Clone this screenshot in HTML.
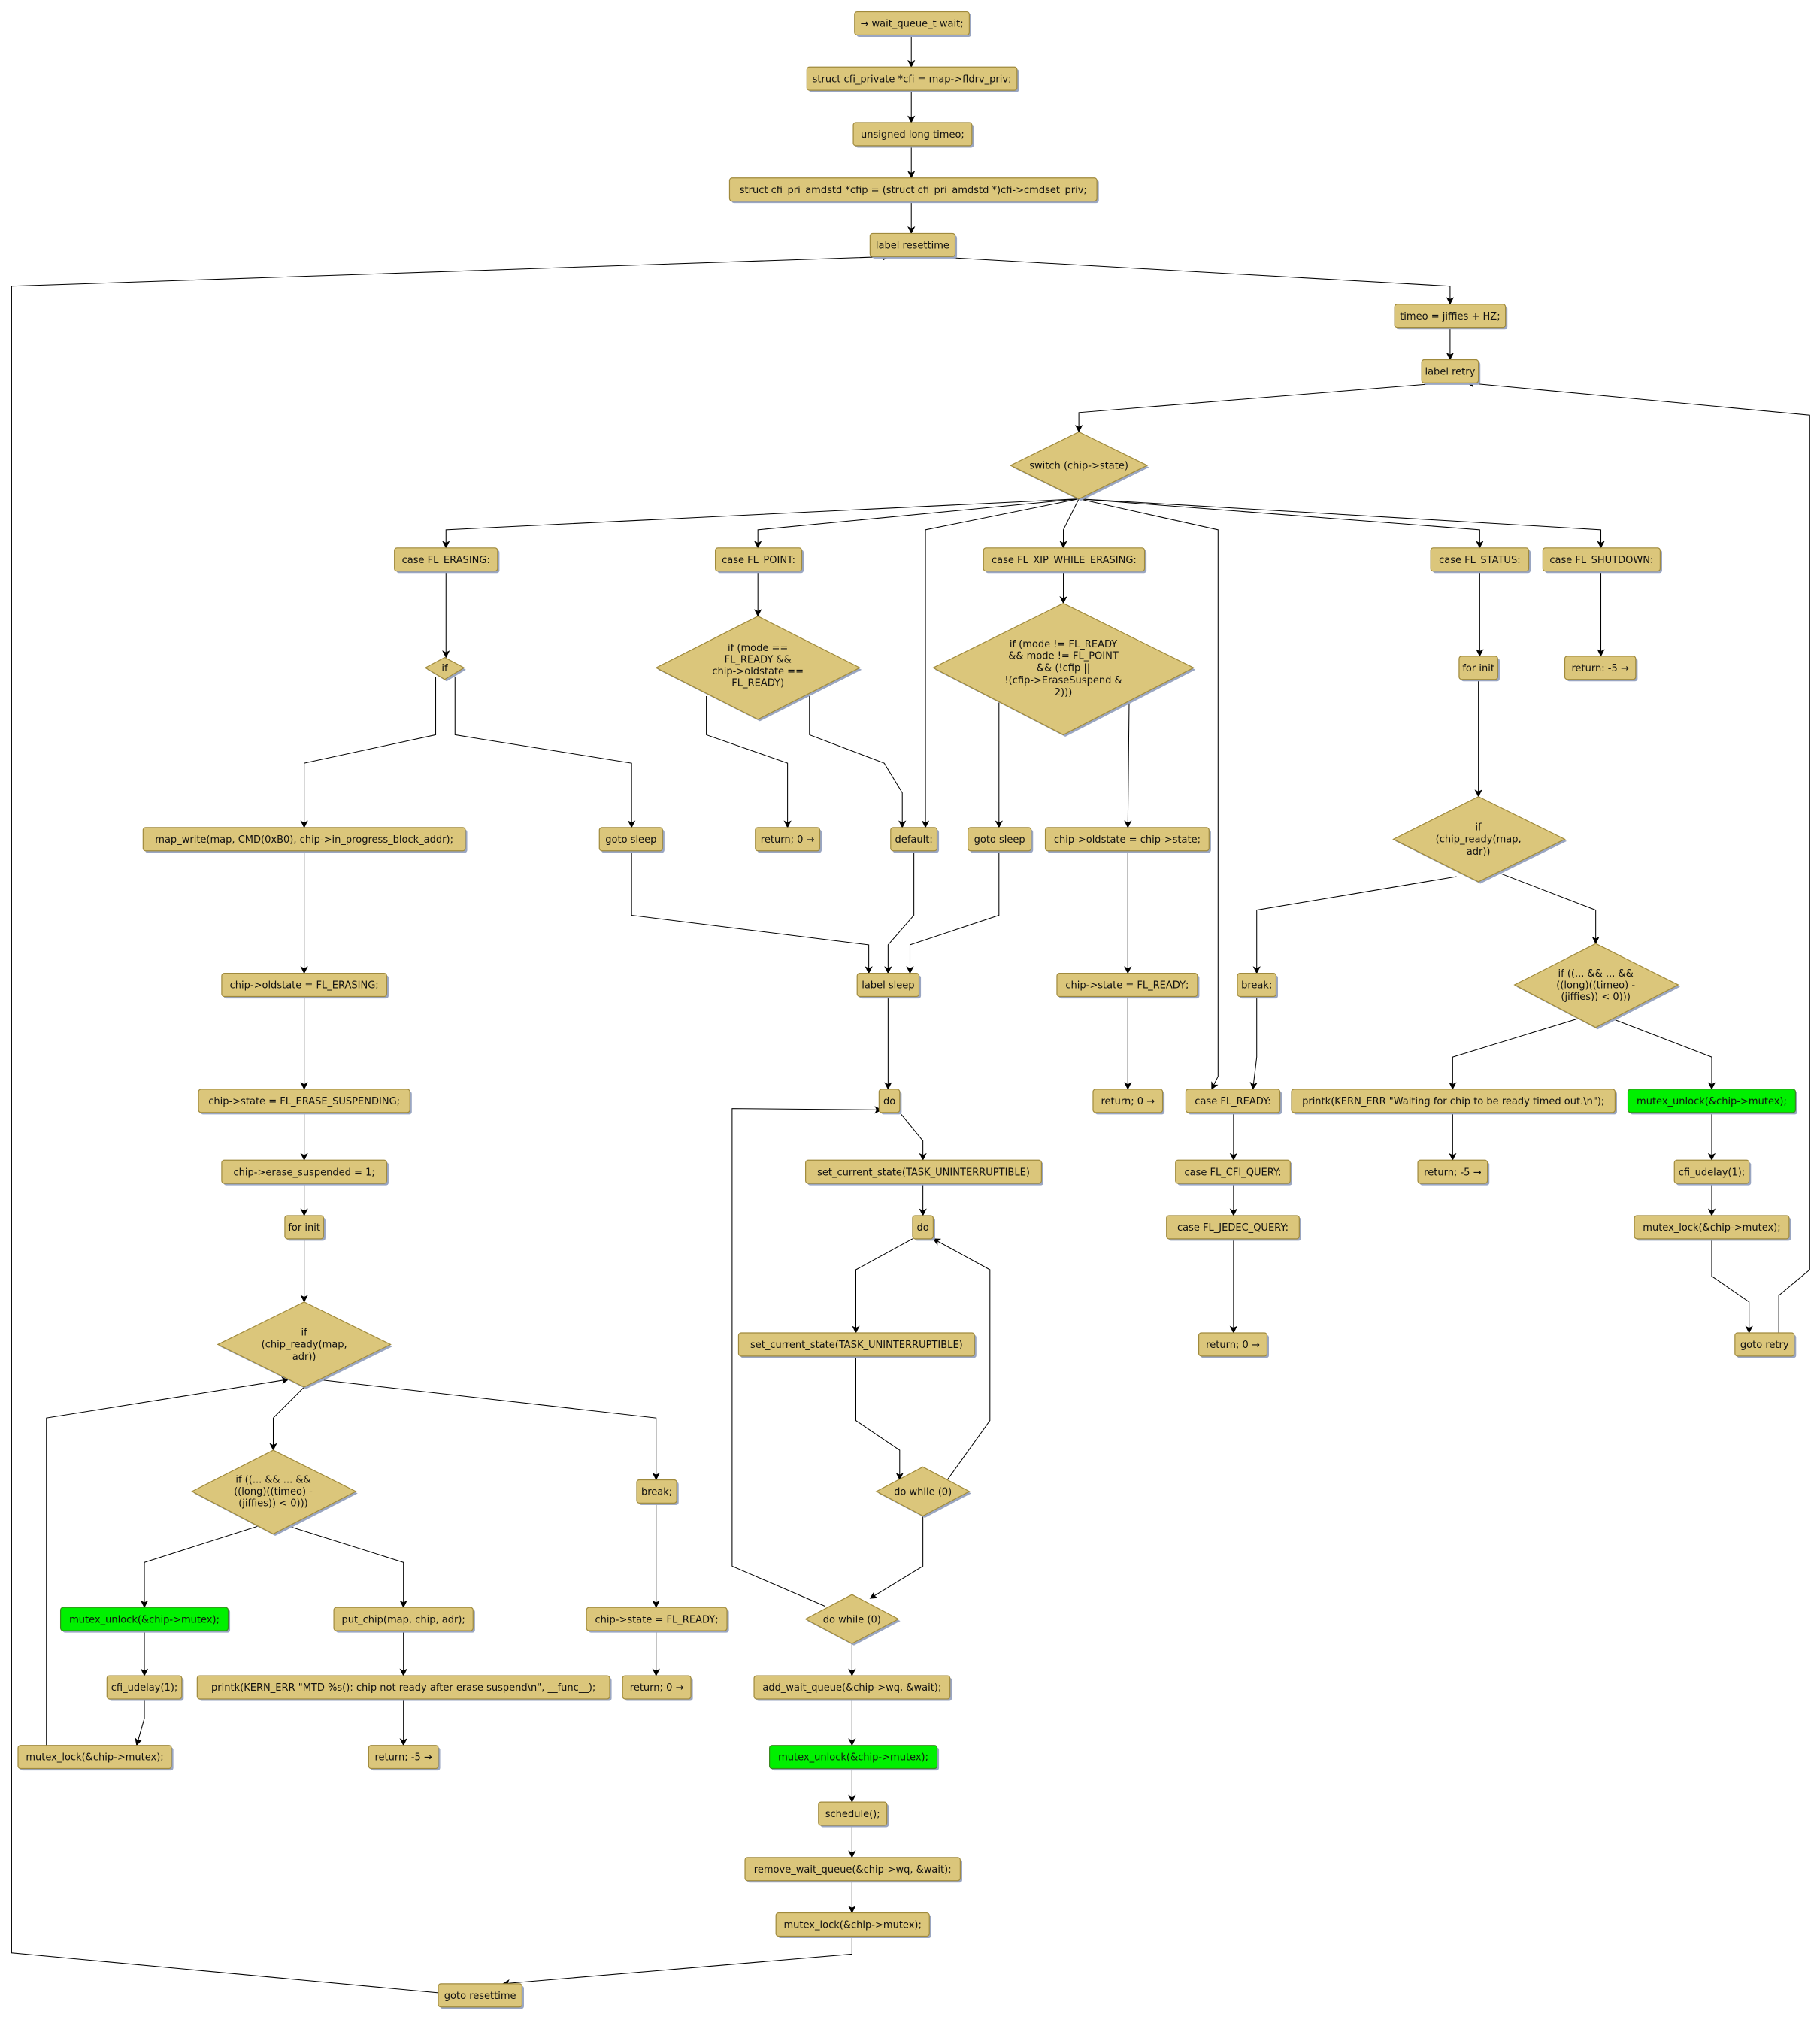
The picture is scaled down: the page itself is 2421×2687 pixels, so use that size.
<!DOCTYPE html>
<html><head><meta charset="utf-8"><style>
html,body{margin:0;padding:0;background:#fff}
svg{display:block}
text{font-family:"DejaVu Sans","Liberation Sans",sans-serif;font-size:7.6px;fill:#111;text-anchor:middle}
.b{fill:#dbc67b;stroke:#a08a3c;stroke-width:0.7}
.g{fill:#00f000;stroke:#3a8a20;stroke-width:0.7}
.s{fill:#9aa6c2}
.e{fill:none;stroke:#000;stroke-width:0.6}
</style></head><body>
<svg width="2421" height="2687" viewBox="0 0 1412 1567" xmlns="http://www.w3.org/2000/svg">
<defs><marker id="a" markerWidth="6" markerHeight="6" refX="5.5" refY="3" orient="auto" markerUnits="userSpaceOnUse"><path d="M0,0 L6,3 L0,6 L1.5,3 z" fill="#000"/></marker></defs>
<g class="e" marker-end="url(#a)">
<polyline points="707,27 707,52"/><polyline points="707,70 707,95"/><polyline points="707,113 707,138"/><polyline points="707,156 707,181"/>
<polyline points="722,199 1125,222 1125,236"/>
<polyline points="661,1502 661,1516 390,1539"/>
<polyline points="340,1546 9,1515 9,222 690,199"/>
<polyline points="1125,254 1125,279"/>
<polyline points="1120,297 837,320 837,335"/>
<polyline points="1380,1034 1380,1005 1404,985 1404,322 1138,297"/>
<polyline points="837,387 346,411 346,425"/>
<polyline points="837,387 588,411 588,425"/>
<polyline points="837,387 718,411 718,642"/>
<polyline points="837,387 825,411 825,425"/>
<polyline points="837,387 945,411 945,835 940,845"/>
<polyline points="837,387 1148,411 1148,425"/>
<polyline points="837,387 1242,411 1242,425"/>
<polyline points="346,443 346,510"/>
<polyline points="338,525 338,570 236,592 236,642"/>
<polyline points="353,525 353,570 490,592 490,642"/>
<polyline points="588,443 588,478"/>
<polyline points="548,540 548,570 611,592 611,642"/>
<polyline points="628,540 628,570 686,592 700,615 700,642"/>
<polyline points="825,443 825,468"/>
<polyline points="775,545 775,642"/>
<polyline points="876,545 875,642"/>
<polyline points="236,660 236,755"/>
<polyline points="490,660 490,710 674,733 674,755"/>
<polyline points="709,660 709,710 689,733 689,755"/>
<polyline points="775,660 775,710 706,733 706,755"/>
<polyline points="875,660 875,755"/>
<polyline points="1148,443 1148,509"/>
<polyline points="1242,443 1242,509"/>
<polyline points="1147,527 1147,618"/>
<polyline points="1130,680 975,706 975,755"/>
<polyline points="1160,676 1238,706 1238,732"/>
<polyline points="975,773 975,820 972,845"/>
<polyline points="1225,790 1127,820 1127,845"/>
<polyline points="1250,790 1328,820 1328,845"/>
<polyline points="236,773 236,845"/>
<polyline points="689,773 689,845"/>
<polyline points="875,773 875,845"/>
<polyline points="957,863 957,900"/>
<polyline points="1127,863 1127,900"/>
<polyline points="1328,863 1328,900"/>
<polyline points="236,863 236,900"/>
<polyline points="698,863 716,885 716,900"/>
<polyline points="957,918 957,943"/>
<polyline points="1328,918 1328,943"/>
<polyline points="236,918 236,943"/>
<polyline points="716,918 716,943"/>
<polyline points="957,961 957,1034"/>
<polyline points="1328,961 1328,990 1357,1010 1357,1034"/>
<polyline points="236,961 236,1010"/>
<polyline points="708,961 664,985 664,1034"/>
<polyline points="735,1148 768,1102 768,985 724,961"/>
<polyline points="664,1052 664,1102 698,1125 698,1148"/>
<polyline points="716,1176 716,1215 675,1240"/>
<polyline points="640,1246 568,1215 568,860 684,861"/>
<polyline points="236,1076 212,1100 212,1125"/>
<polyline points="245,1070 509,1100 509,1148"/>
<polyline points="36,1354 36,1100 224,1070"/>
<polyline points="200,1184 112,1212 112,1247"/>
<polyline points="224,1184 313,1212 313,1247"/>
<polyline points="509,1166 509,1247"/>
<polyline points="661,1275 661,1300"/>
<polyline points="112,1265 112,1300"/>
<polyline points="313,1265 313,1300"/>
<polyline points="509,1265 509,1300"/>
<polyline points="112,1318 112,1333 106,1354"/>
<polyline points="313,1318 313,1354"/>
<polyline points="661,1318 661,1354"/>
<polyline points="661,1372 661,1398"/><polyline points="661,1416 661,1441"/><polyline points="661,1459 661,1484"/>
</g>

<g>
<rect class="s" x="664.5" y="10.5" width="89" height="18" rx="2"/><rect class="b" x="663" y="9" width="89" height="18" rx="2"/><text x="707.5" y="20.7">→ wait_queue_t wait;</text>
<rect class="s" x="627.5" y="53.5" width="163" height="18" rx="2"/><rect class="b" x="626" y="52" width="163" height="18" rx="2"/><text x="707.5" y="63.7">struct cfi_private *cfi = map-&gt;fldrv_priv;</text>
<rect class="s" x="663.5" y="96.5" width="92" height="18" rx="2"/><rect class="b" x="662" y="95" width="92" height="18" rx="2"/><text x="708" y="106.7">unsigned long timeo;</text>
<rect class="s" x="567.5" y="139.5" width="285" height="18" rx="2"/><rect class="b" x="566" y="138" width="285" height="18" rx="2"/><text x="708.5" y="149.7">struct cfi_pri_amdstd *cfip = (struct cfi_pri_amdstd *)cfi-&gt;cmdset_priv;</text>
<rect class="s" x="676.5" y="182.5" width="66" height="18" rx="2"/><rect class="b" x="675" y="181" width="66" height="18" rx="2"/><text x="708" y="192.7">label resettime</text>
<rect class="s" x="1083.5" y="237.5" width="86" height="18" rx="2"/><rect class="b" x="1082" y="236" width="86" height="18" rx="2"/><text x="1125" y="247.7">timeo = jiffies + HZ;</text>
<rect class="s" x="1104.5" y="280.5" width="44" height="18" rx="2"/><rect class="b" x="1103" y="279" width="44" height="18" rx="2"/><text x="1125" y="290.7">label retry</text>

<rect class="s" x="307.5" y="426.5" width="80" height="18" rx="2"/><rect class="b" x="306" y="425" width="80" height="18" rx="2"/><text x="346" y="436.7">case FL_ERASING:</text>
<rect class="s" x="556.5" y="426.5" width="67" height="18" rx="2"/><rect class="b" x="555" y="425" width="67" height="18" rx="2"/><text x="588.5" y="436.7">case FL_POINT:</text>
<rect class="s" x="764.5" y="426.5" width="125" height="18" rx="2"/><rect class="b" x="763" y="425" width="125" height="18" rx="2"/><text x="825.5" y="436.7">case FL_XIP_WHILE_ERASING:</text>
<rect class="s" x="1111.5" y="426.5" width="76" height="18" rx="2"/><rect class="b" x="1110" y="425" width="76" height="18" rx="2"/><text x="1148" y="436.7">case FL_STATUS:</text>
<rect class="s" x="1198.5" y="426.5" width="91" height="18" rx="2"/><rect class="b" x="1197" y="425" width="91" height="18" rx="2"/><text x="1242.5" y="436.7">case FL_SHUTDOWN:</text>

<rect class="s" x="1133.5" y="510.5" width="30" height="18" rx="2"/><rect class="b" x="1132" y="509" width="30" height="18" rx="2"/><text x="1147" y="520.7">for init</text>
<rect class="s" x="1215.5" y="510.5" width="55" height="18" rx="2"/><rect class="b" x="1214" y="509" width="55" height="18" rx="2"/><text x="1241.5" y="520.7">return: -5 →</text>

<rect class="s" x="112.5" y="643.5" width="250" height="18" rx="2"/><rect class="b" x="111" y="642" width="250" height="18" rx="2"/><text x="236" y="653.7">map_write(map, CMD(0xB0), chip-&gt;in_progress_block_addr);</text>
<rect class="s" x="466.5" y="643.5" width="49" height="18" rx="2"/><rect class="b" x="465" y="642" width="49" height="18" rx="2"/><text x="489.5" y="653.7">goto sleep</text>
<rect class="s" x="587.5" y="643.5" width="50" height="18" rx="2"/><rect class="b" x="586" y="642" width="50" height="18" rx="2"/><text x="611" y="653.7">return; 0 →</text>
<rect class="s" x="692.5" y="643.5" width="36" height="18" rx="2"/><rect class="b" x="691" y="642" width="36" height="18" rx="2"/><text x="709" y="653.7">default:</text>
<rect class="s" x="752.5" y="643.5" width="49" height="18" rx="2"/><rect class="b" x="751" y="642" width="49" height="18" rx="2"/><text x="775.5" y="653.7">goto sleep</text>
<rect class="s" x="812.5" y="643.5" width="127" height="18" rx="2"/><rect class="b" x="811" y="642" width="127" height="18" rx="2"/><text x="874.5" y="653.7">chip-&gt;oldstate = chip-&gt;state;</text>

<rect class="s" x="173.5" y="756.5" width="128" height="18" rx="2"/><rect class="b" x="172" y="755" width="128" height="18" rx="2"/><text x="236" y="766.7">chip-&gt;oldstate = FL_ERASING;</text>
<rect class="s" x="666.5" y="756.5" width="48" height="18" rx="2"/><rect class="b" x="665" y="755" width="48" height="18" rx="2"/><text x="689" y="766.7">label sleep</text>
<rect class="s" x="821.5" y="756.5" width="109" height="18" rx="2"/><rect class="b" x="820" y="755" width="109" height="18" rx="2"/><text x="874.5" y="766.7">chip-&gt;state = FL_READY;</text>
<rect class="s" x="961.5" y="756.5" width="30" height="18" rx="2"/><rect class="b" x="960" y="755" width="30" height="18" rx="2"/><text x="975" y="766.7">break;</text>

<rect class="s" x="155.5" y="846.5" width="164" height="18" rx="2"/><rect class="b" x="154" y="845" width="164" height="18" rx="2"/><text x="236" y="856.7">chip-&gt;state = FL_ERASE_SUSPENDING;</text>
<rect class="s" x="683.5" y="846.5" width="16" height="18" rx="2"/><rect class="b" x="682" y="845" width="16" height="18" rx="2"/><text x="690" y="856.7">do</text>
<rect class="s" x="849.5" y="846.5" width="54" height="18" rx="2"/><rect class="b" x="848" y="845" width="54" height="18" rx="2"/><text x="875" y="856.7">return; 0 →</text>
<rect class="s" x="921.5" y="846.5" width="73" height="18" rx="2"/><rect class="b" x="920" y="845" width="73" height="18" rx="2"/><text x="956.5" y="856.7">case FL_READY:</text>
<rect class="s" x="1003.5" y="846.5" width="251" height="18" rx="2"/><rect class="b" x="1002" y="845" width="251" height="18" rx="2"/><text x="1127.5" y="856.7">printk(KERN_ERR "Waiting for chip to be ready timed out.\n");</text>
<rect class="s" x="1264.5" y="846.5" width="130" height="18" rx="2"/><rect class="g" x="1263" y="845" width="130" height="18" rx="2"/><text x="1328" y="856.7">mutex_unlock(&amp;chip-&gt;mutex);</text>

<rect class="s" x="173.5" y="901.5" width="128" height="18" rx="2"/><rect class="b" x="172" y="900" width="128" height="18" rx="2"/><text x="236" y="911.7">chip-&gt;erase_suspended = 1;</text>
<rect class="s" x="626.5" y="901.5" width="183" height="18" rx="2"/><rect class="b" x="625" y="900" width="183" height="18" rx="2"/><text x="716.5" y="911.7">set_current_state(TASK_UNINTERRUPTIBLE)</text>
<rect class="s" x="913.5" y="901.5" width="89" height="18" rx="2"/><rect class="b" x="912" y="900" width="89" height="18" rx="2"/><text x="956.5" y="911.7">case FL_CFI_QUERY:</text>
<rect class="s" x="1101.5" y="901.5" width="54" height="18" rx="2"/><rect class="b" x="1100" y="900" width="54" height="18" rx="2"/><text x="1127" y="911.7">return; -5 →</text>
<rect class="s" x="1300.5" y="901.5" width="58" height="18" rx="2"/><rect class="b" x="1299" y="900" width="58" height="18" rx="2"/><text x="1328" y="911.7">cfi_udelay(1);</text>

<rect class="s" x="222.5" y="944.5" width="30" height="18" rx="2"/><rect class="b" x="221" y="943" width="30" height="18" rx="2"/><text x="236" y="954.7">for init</text>
<rect class="s" x="709.5" y="944.5" width="16" height="18" rx="2"/><rect class="b" x="708" y="943" width="16" height="18" rx="2"/><text x="716" y="954.7">do</text>
<rect class="s" x="906.5" y="944.5" width="103" height="18" rx="2"/><rect class="b" x="905" y="943" width="103" height="18" rx="2"/><text x="956.5" y="954.7">case FL_JEDEC_QUERY:</text>
<rect class="s" x="1269.5" y="944.5" width="120" height="18" rx="2"/><rect class="b" x="1268" y="943" width="120" height="18" rx="2"/><text x="1328" y="954.7">mutex_lock(&amp;chip-&gt;mutex);</text>

<rect class="s" x="574.5" y="1035.5" width="183" height="18" rx="2"/><rect class="b" x="573" y="1034" width="183" height="18" rx="2"/><text x="664.5" y="1045.7">set_current_state(TASK_UNINTERRUPTIBLE)</text>
<rect class="s" x="931.5" y="1035.5" width="53" height="18" rx="2"/><rect class="b" x="930" y="1034" width="53" height="18" rx="2"/><text x="956.5" y="1045.7">return; 0 →</text>
<rect class="s" x="1347.5" y="1035.5" width="46" height="18" rx="2"/><rect class="b" x="1346" y="1034" width="46" height="18" rx="2"/><text x="1369" y="1045.7">goto retry</text>

<rect class="s" x="495.5" y="1149.5" width="31" height="18" rx="2"/><rect class="b" x="494" y="1148" width="31" height="18" rx="2"/><text x="509.5" y="1159.7">break;</text>

<rect class="s" x="48.5" y="1248.5" width="130" height="18" rx="2"/><rect class="g" x="47" y="1247" width="130" height="18" rx="2"/><text x="112" y="1258.7">mutex_unlock(&amp;chip-&gt;mutex);</text>
<rect class="s" x="260.5" y="1248.5" width="108" height="18" rx="2"/><rect class="b" x="259" y="1247" width="108" height="18" rx="2"/><text x="313" y="1258.7">put_chip(map, chip, adr);</text>
<rect class="s" x="456.5" y="1248.5" width="109" height="18" rx="2"/><rect class="b" x="455" y="1247" width="109" height="18" rx="2"/><text x="509.5" y="1258.7">chip-&gt;state = FL_READY;</text>

<rect class="s" x="84.5" y="1301.5" width="58" height="18" rx="2"/><rect class="b" x="83" y="1300" width="58" height="18" rx="2"/><text x="112" y="1311.7">cfi_udelay(1);</text>
<rect class="s" x="154.5" y="1301.5" width="320" height="18" rx="2"/><rect class="b" x="153" y="1300" width="320" height="18" rx="2"/><text x="313" y="1311.7">printk(KERN_ERR "MTD %s(): chip not ready after erase suspend\n", __func__);</text>
<rect class="s" x="484.5" y="1301.5" width="53" height="18" rx="2"/><rect class="b" x="483" y="1300" width="53" height="18" rx="2"/><text x="509.5" y="1311.7">return; 0 →</text>
<rect class="s" x="586.5" y="1301.5" width="152" height="18" rx="2"/><rect class="b" x="585" y="1300" width="152" height="18" rx="2"/><text x="661" y="1311.7">add_wait_queue(&amp;chip-&gt;wq, &amp;wait);</text>

<rect class="s" x="15.5" y="1355.5" width="119" height="18" rx="2"/><rect class="b" x="14" y="1354" width="119" height="18" rx="2"/><text x="73.5" y="1365.7">mutex_lock(&amp;chip-&gt;mutex);</text>
<rect class="s" x="287.5" y="1355.5" width="54" height="18" rx="2"/><rect class="b" x="286" y="1354" width="54" height="18" rx="2"/><text x="313" y="1365.7">return; -5 →</text>
<rect class="s" x="598.5" y="1355.5" width="130" height="18" rx="2"/><rect class="g" x="597" y="1354" width="130" height="18" rx="2"/><text x="662" y="1365.7">mutex_unlock(&amp;chip-&gt;mutex);</text>

<rect class="s" x="636.5" y="1399.5" width="53" height="18" rx="2"/><rect class="b" x="635" y="1398" width="53" height="18" rx="2"/><text x="661.5" y="1409.7">schedule();</text>
<rect class="s" x="579.5" y="1442.5" width="167" height="18" rx="2"/><rect class="b" x="578" y="1441" width="167" height="18" rx="2"/><text x="661.5" y="1452.7">remove_wait_queue(&amp;chip-&gt;wq, &amp;wait);</text>
<rect class="s" x="603.5" y="1485.5" width="119" height="18" rx="2"/><rect class="b" x="602" y="1484" width="119" height="18" rx="2"/><text x="661.5" y="1495.7">mutex_lock(&amp;chip-&gt;mutex);</text>
<rect class="s" x="341.5" y="1540.5" width="65" height="18" rx="2"/><rect class="b" x="340" y="1539" width="65" height="18" rx="2"/><text x="372.5" y="1550.7">goto resettime</text>
</g>

<g>
<polygon class="s" points="838.5,336.5 891.5,362.5 838.5,388.5 785.5,362.5"/><polygon class="b" points="837,335 890,361 837,387 784,361"/><text x="837" y="363.7">switch (chip-&gt;state)</text>
<polygon class="s" points="346.5,511.5 361.5,519.5 346.5,528.5 331.5,519.5"/><polygon class="b" points="345,510 360,518 345,527 330,518"/><text x="345" y="520.7">if</text>
<polygon class="s" points="589.5,479.5 668.5,519.5 589.5,559.5 510.5,519.5"/><polygon class="b" points="588,478 667,518 588,558 509,518"/>
<text x="588" y="505">if (mode ==</text><text x="588" y="514">FL_READY &amp;&amp;</text><text x="588" y="523">chip-&gt;oldstate ==</text><text x="588" y="532">FL_READY)</text>
<polygon class="s" points="826.5,469.5 927.5,519.5 826.5,571.5 725.5,519.5"/><polygon class="b" points="825,468 926,518 825,570 724,518"/>
<text x="825" y="502">if (mode != FL_READY</text><text x="825" y="511">&amp;&amp; mode != FL_POINT</text><text x="825" y="520.5">&amp;&amp; (!cfip ||</text><text x="825" y="530">!(cfip-&gt;EraseSuspend &amp;</text><text x="825" y="539.5">2)))</text>
<polygon class="s" points="1148.5,619.5 1215.5,652.5 1148.5,685.5 1082.5,652.5"/><polygon class="b" points="1147,618 1214,651 1147,684 1081,651"/>
<text x="1147" y="644">if</text><text x="1147" y="653.5">(chip_ready(map,</text><text x="1147" y="663">adr))</text>
<polygon class="s" points="1239.5,733.5 1303.5,765.5 1239.5,798.5 1176.5,765.5"/><polygon class="b" points="1238,732 1302,764 1238,797 1175,764"/>
<text x="1238" y="757.5">if ((... &amp;&amp; ... &amp;&amp;</text><text x="1238" y="766.5">((long)((timeo) -</text><text x="1238" y="775.5">(jiffies)) &lt; 0)))</text>
<polygon class="s" points="237.5,1011.5 304.5,1044.5 237.5,1077.5 170.5,1044.5"/><polygon class="b" points="236,1010 303,1043 236,1076 169,1043"/>
<text x="236" y="1036">if</text><text x="236" y="1045.5">(chip_ready(map,</text><text x="236" y="1055">adr))</text>
<polygon class="s" points="213.5,1126.5 277.5,1158.5 213.5,1191.5 150.5,1158.5"/><polygon class="b" points="212,1125 276,1157 212,1190 149,1157"/>
<text x="212" y="1150.5">if ((... &amp;&amp; ... &amp;&amp;</text><text x="212" y="1159.5">((long)((timeo) -</text><text x="212" y="1168.5">(jiffies)) &lt; 0)))</text>
<polygon class="s" points="717.5,1139.5 753.5,1158.5 717.5,1177.5 681.5,1158.5"/><polygon class="b" points="716,1138 752,1157 716,1176 680,1157"/><text x="716" y="1159.7">do while (0)</text>
<polygon class="s" points="662.5,1238.5 698.5,1257.5 662.5,1276.5 626.5,1257.5"/><polygon class="b" points="661,1237 697,1256 661,1275 625,1256"/><text x="661" y="1258.7">do while (0)</text>
</g>
</svg>
</body></html>
